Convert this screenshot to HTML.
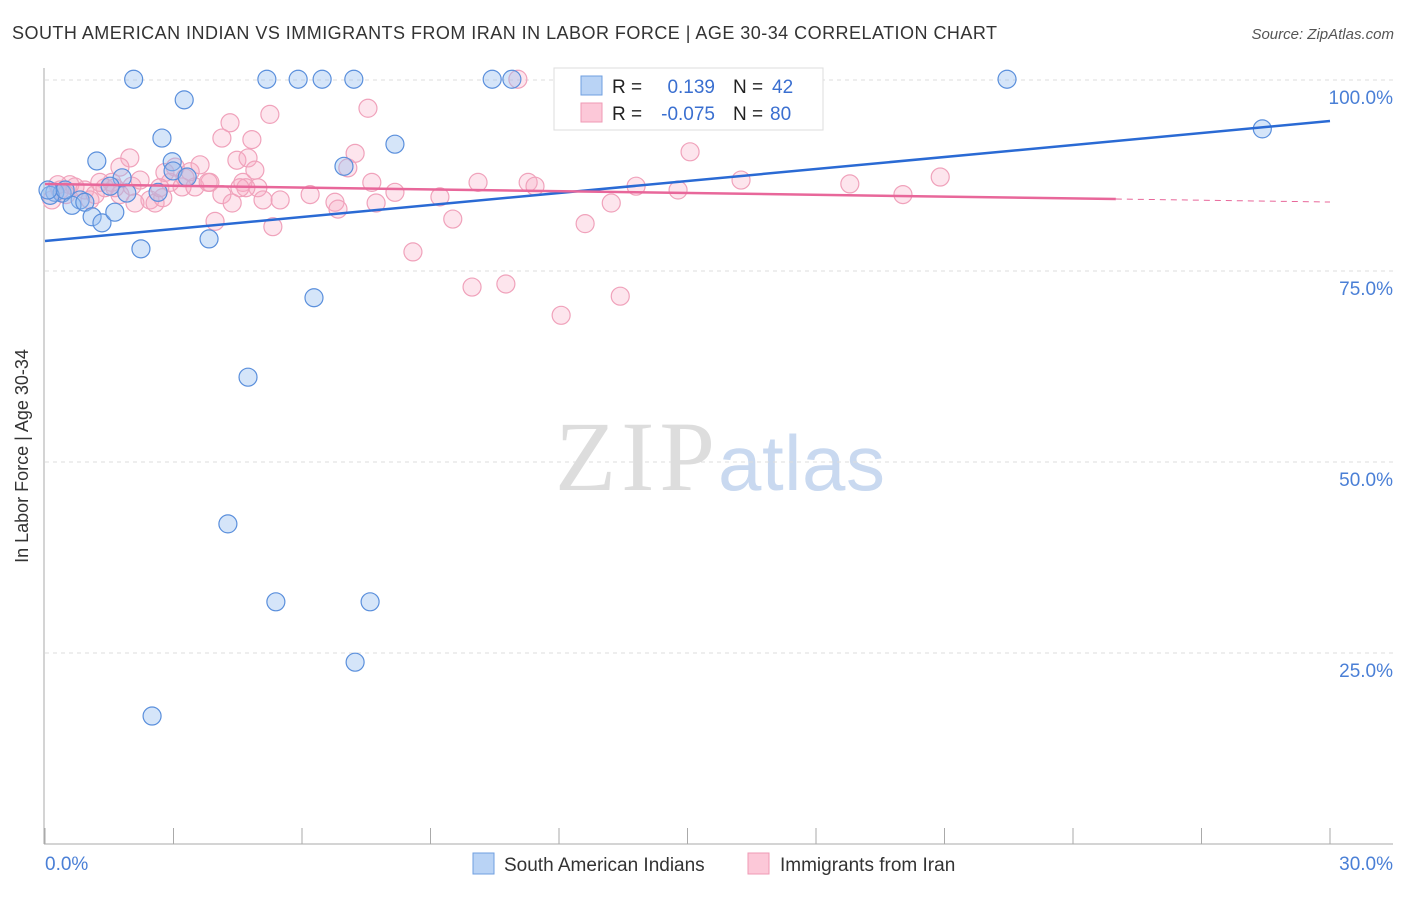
<!DOCTYPE html>
<html><head><meta charset="utf-8"><style>
body{margin:0;background:#fff;font-family:"Liberation Sans",sans-serif}
</style></head><body>
<svg width="1406" height="892" xmlns="http://www.w3.org/2000/svg" font-family="Liberation Sans, sans-serif">
<text x="12" y="39" font-size="18" fill="#333" textLength="985">SOUTH AMERICAN INDIAN VS IMMIGRANTS FROM IRAN IN LABOR FORCE | AGE 30-34 CORRELATION CHART</text>
<text x="1394" y="39" font-size="15" fill="#555" text-anchor="end" font-style="italic">Source: ZipAtlas.com</text>
<text x="555" y="490" font-size="100" fill="#ddd" font-family="Liberation Serif, serif" textLength="160">ZIP</text>
<text x="718" y="490" font-size="78" fill="#c9d9f0" textLength="167">atlas</text>
<g id="grid"></g>
<g id="axes"></g>
<g id="pts"></g>
<g id="lines"></g>
<text x="28" y="456" font-size="18" fill="#333" text-anchor="middle" transform="rotate(-90 28 456)">In Labor Force | Age 30-34</text>
<g>
<rect x="554" y="68" width="269" height="62" fill="#fff" stroke="#ddd"/>
<rect x="581" y="76" width="21" height="19" fill="#b9d3f5" stroke="#6f9fe0"/>
<rect x="581" y="103" width="21" height="19" fill="#fcc8d8" stroke="#ef9ab5"/>
<text x="612" y="93" font-size="19" fill="#222">R =</text>
<text x="715" y="93" font-size="19" fill="#3a6fd0" text-anchor="end">0.139</text>
<text x="733" y="93" font-size="19" fill="#222">N =</text>
<text x="772" y="93" font-size="19" fill="#3a6fd0">42</text>
<text x="612" y="120" font-size="19" fill="#222">R =</text>
<text x="715" y="120" font-size="19" fill="#3a6fd0" text-anchor="end">-0.075</text>
<text x="733" y="120" font-size="19" fill="#222">N =</text>
<text x="770" y="120" font-size="19" fill="#3a6fd0">80</text>
</g>
<g>
<rect x="473" y="853" width="21" height="21" fill="#b9d3f5" stroke="#6f9fe0"/>
<text x="504" y="871" font-size="19" fill="#333">South American Indians</text>
<rect x="748" y="853" width="21" height="21" fill="#fcc8d8" stroke="#ef9ab5"/>
<text x="780" y="871" font-size="19" fill="#333">Immigrants from Iran</text>
</g>
</svg>
<script>
const xTicks=[0,3,6,9,12,15,18,21,24,27,30];
const yTicks=[100,75,50,25];
const yTickLabels=["100.0%","75.0%","50.0%","25.0%"];
const xTickLabels=["0.0%","30.0%"];
const blueX=[2.07,5.18,5.91,6.47,7.21,10.44,10.90,13.75,22.46,3.25,2.73,8.17,1.21,2.97,6.98,1.80,2.99,3.32,28.42,0.23,0.40,0.82,1.52,1.91,2.64,0.63,0.93,1.10,1.33,1.63,2.24,3.83,6.28,4.74,4.27,5.39,7.59,7.24,2.50,0.12,0.47,0.07];
const blueY=[100.1,100.1,100.1,100.1,100.1,100.1,100.1,100.1,100.1,97.4,92.4,91.6,89.4,89.3,88.7,87.2,88.1,87.3,93.6,85.3,85.2,84.3,86.1,85.2,85.3,83.6,84.0,82.1,81.3,82.7,77.9,79.2,71.5,61.1,41.9,31.7,31.7,23.8,16.75,84.9,85.6,85.6];
const pinkX=[0.58,0.35,0.70,0.93,1.17,1.40,1.56,1.75,2.03,2.22,1.98,2.45,2.57,2.75,2.92,3.04,3.20,3.39,3.50,3.62,3.85,3.97,4.13,4.32,4.37,4.48,4.62,4.74,4.83,4.90,4.97,5.09,5.25,5.32,5.49,6.19,6.77,6.84,7.07,7.24,7.54,7.63,7.73,8.17,8.59,9.22,9.52,9.97,10.11,10.76,11.04,11.28,11.44,12.05,12.61,13.22,13.43,13.80,14.78,15.06,15.48,16.25,18.79,20.03,20.90,4.13,4.69,1.75,1.28,1.05,2.80,3.27,3.81,4.55,2.68,0.16,0.30,0.49,1.63,2.10];
const pinkY=[86.3,85.6,86.0,85.6,85.0,85.9,86.6,85.0,86.1,86.9,89.8,84.3,83.9,84.6,86.6,88.6,86.0,88.0,86.0,88.9,86.6,81.5,85.0,94.4,83.9,89.5,86.6,89.8,92.2,88.2,85.9,84.3,95.5,80.8,84.3,85.0,84.0,83.1,88.5,90.4,96.3,86.6,83.9,85.3,77.5,84.7,81.8,72.9,86.6,73.3,100.1,86.6,86.1,69.2,81.2,83.9,71.7,86.1,85.6,90.6,100.1,86.9,86.4,85.0,87.3,92.4,85.9,88.6,86.6,84.3,87.9,87.2,86.6,85.9,85.9,84.3,86.3,85.0,85.9,83.9];
const blueTrend=[78.93,94.63];
const pinkTrend=[86.39,84.03];
const NS="http://www.w3.org/2000/svg";
const X=v=>45+v*(1285/30);
const Y=v=>80+(100-v)*7.64;
function mk(tag,attrs,parent){const e=document.createElementNS(NS,tag);for(const k in attrs)e.setAttribute(k,attrs[k]);document.getElementById(parent).appendChild(e);return e;}
yTicks.forEach((t,i)=>{
 let l=mk('line',{x1:45,x2:1393,y1:Y(t),y2:Y(t),stroke:'#ddd','stroke-dasharray':'4,4'},'grid');
 
 
 let tx=mk('text',{x:1393,y:Y(t)+24,'font-size':19,fill:'#4a7fd6','text-anchor':'end'},'grid');
 tx.textContent=yTickLabels[i];
 
 
});
let ax=mk('line',{x1:44,x2:44,y1:68,y2:844,stroke:'#aaa'},'axes');


let bx=mk('line',{x1:44,x2:1393,y1:844,y2:844,stroke:'#aaa'},'axes');


xTicks.forEach(t=>{
 let l=mk('line',{x1:X(t),x2:X(t),y1:828,y2:844,stroke:'#aaa'},'axes');
 
 
});
[[0,'start'],[30,'end']].forEach((p,i)=>{
 let tx=mk('text',{x:i?1393:45,y:870,'font-size':19,fill:'#4a7fd6','text-anchor':p[1]},'axes');
 tx.textContent=xTickLabels[i];
 
 
});
pinkX.forEach((x,i)=>{
 let c=mk('circle',{cx:X(x),cy:Y(pinkY[i]),r:9,fill:'rgba(248,170,195,0.3)',stroke:'#f0a2bb','stroke-width':1.2},'pts');
 
 
});
blueX.forEach((x,i)=>{
 let c=mk('circle',{cx:X(x),cy:Y(blueY[i]),r:9,fill:'rgba(150,190,240,0.4)',stroke:'#5a8fdc','stroke-width':1.2},'pts');
 
 
});
let bl=mk('line',{x1:X(0),y1:Y(blueTrend[0]),x2:X(30),y2:Y(blueTrend[1]),stroke:'#2a6ad4','stroke-width':2.5},'lines');


const pAt=x=>pinkTrend[0]+(pinkTrend[1]-pinkTrend[0])*x/30;
let pl=mk('line',{x1:X(0),y1:Y(pAt(0)),x2:X(25),y2:Y(pAt(25)),stroke:'#e8679a','stroke-width':2.5},'lines');


let pd=mk('line',{x1:X(25),y1:Y(pAt(25)),x2:X(30),y2:Y(pAt(30)),stroke:'#e8679a','stroke-width':1,'stroke-dasharray':'6,5'},'lines');


</script>
</body></html>
